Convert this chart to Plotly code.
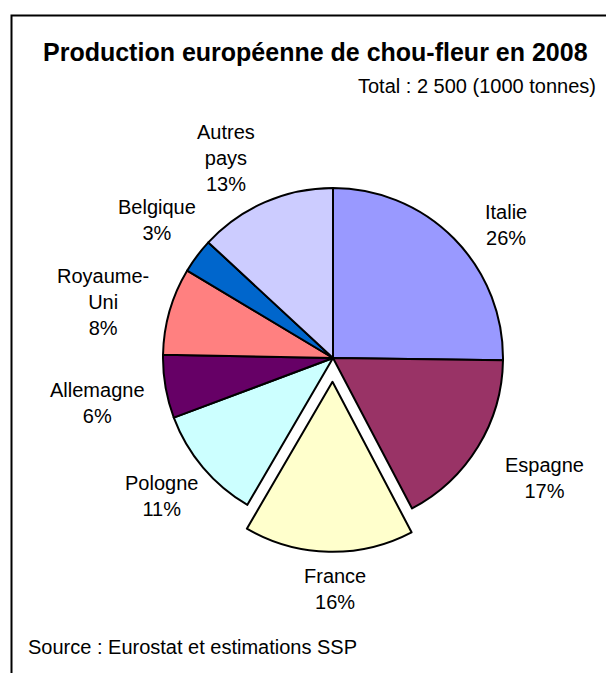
import plotly.graph_objects as go

# ---- data ----
categories = ["Italie", "Espagne", "France", "Pologne", "Allemagne",
              "Royaume-Uni", "Belgique", "Autres pays"]
display_labels = ["Italie", "Espagne", "France", "Pologne", "Allemagne",
                  "Royaume-<br>Uni", "Belgique", "Autres<br>pays"]
# slice sizes as drawn in the picture (share of total, %)
shares = [25.2, 17.1, 16.1, 10.9, 6.0, 8.3, 3.3, 13.1]
# percentage labels as printed on the chart
pct_labels = ["26%", "17%", "16%", "11%", "6%", "8%", "3%", "13%"]
colors = ["#9999FF", "#993366", "#FFFFCC", "#CCFFFF", "#660066",
          "#FF8080", "#0066CC", "#CCCCFF"]
pulls = [0, 0, 0.14, 0, 0, 0, 0, 0]

title_text = "Production européenne de chou-fleur en 2008"
subtitle_text = "Total : 2 500 (1000 tonnes)"
source_text = "Source : Eurostat et estimations SSP"

# ---- layout constants (pixels) ----
W, H = 606, 673
FONT = "Liberation Sans, Arial, sans-serif"
# label anchor positions (pixel centers of text blocks)
label_pos = [(506, 225), (544, 478), (335, 589), (161, 496),
             (97, 403), (103, 302), (157, 220), (226, 158)]

cx, cy, r = 333, 358, 170
half = r * (1 + max(pulls))


def px(x):
    return x / W


def py(y):
    return 1 - y / H


fig = go.Figure(go.Pie(
    labels=categories,
    values=shares,
    sort=False,
    direction="clockwise",
    rotation=0,
    pull=pulls,
    marker=dict(colors=colors, line=dict(color="black", width=2)),
    textinfo="none",
    hoverinfo="skip",
    showlegend=False,
    domain=dict(x=[px(cx - half), px(cx + half)],
                y=[py(cy + half), py(cy - half)]),
))

annotations = []
for lab, pct, (lx, ly) in zip(display_labels, pct_labels, label_pos):
    annotations.append(dict(
        text=f"{lab}<br>{pct}", x=px(lx), y=py(ly), xref="paper", yref="paper",
        xanchor="center", yanchor="middle", showarrow=False, align="center",
        font=dict(family=FONT, size=20, color="black")))

annotations.append(dict(
    text=f"<b>{title_text}</b>", x=px(315), y=py(52), xref="paper", yref="paper",
    xanchor="center", yanchor="middle", showarrow=False,
    font=dict(family=FONT, size=25, color="black")))
annotations.append(dict(
    text=subtitle_text, x=px(598), y=py(86), xref="paper", yref="paper",
    xanchor="right", yanchor="middle", showarrow=False,
    font=dict(family=FONT, size=20, color="black")))
annotations.append(dict(
    text=source_text, x=px(26), y=py(647), xref="paper", yref="paper",
    xanchor="left", yanchor="middle", showarrow=False,
    font=dict(family=FONT, size=20, color="black")))

fig.update_layout(
    width=W, height=H,
    margin=dict(l=0, r=0, t=0, b=0),
    paper_bgcolor="white", plot_bgcolor="white",
    annotations=annotations,
    shapes=[dict(type="rect", xref="paper", yref="paper",
                 x0=px(11.5), x1=px(W + 20), y0=py(H + 20), y1=py(15.5),
                 line=dict(color="black", width=2), fillcolor="rgba(0,0,0,0)")],
)

fig.write_html("out.html")
